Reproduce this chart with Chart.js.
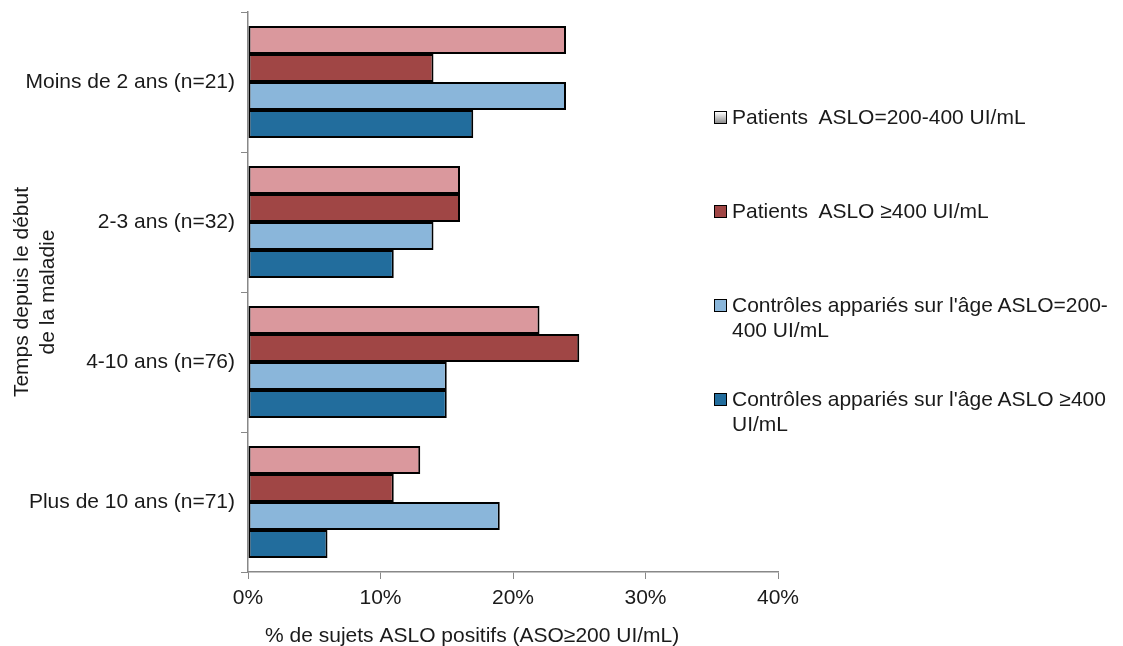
<!DOCTYPE html>
<html>
<head>
<meta charset="utf-8">
<script src="https://cdn.jsdelivr.net/npm/chart.js@4"></script>
<style>
  html, body { margin: 0; padding: 0; background: #fff; }
  #wrap { position: relative; width: 1123px; height: 646px; }
  #legend { position: absolute; left: 714px; top: 104px; font-family: "Liberation Sans", Arial, sans-serif; font-size: 21px; color: #1a1a1a; }
  .item { position: absolute; left: 0; width: 410px; line-height: 25px; padding-left: 18px; white-space: pre; }
  .box { position: absolute; left: 0; top: 7px; width: 11px; height: 11px; border: 1.5px solid #000; }
</style>
</head>
<body>
<div id="wrap">
  <canvas id="chart" width="1123" height="646"></canvas>
  <div id="legend"></div>
</div>
<script>
        // Données
        const categories = ['Moins de 2 ans (n=21)', '2-3 ans (n=32)', '4-10 ans (n=76)', 'Plus de 10 ans (n=71)'];
        const seriesNames = [
            ['Patients  ASLO=200-400 UI/mL'],
            ['Patients  ASLO \u2265400 UI/mL'],
            ["Contr\u00f4les appari\u00e9s sur l'\u00e2ge ASLO=200-", '400 UI/mL'],
            ["Contr\u00f4les appari\u00e9s sur l'\u00e2ge ASLO \u2265400", 'UI/mL']
        ];
        const patients200_400 = [24, 16, 22, 13];
        const patients400 = [14, 16, 25, 11];
        const controles200_400 = [24, 14, 15, 19];
        const controles400 = [17, 11, 15, 6];
        const xTicks = [0, 10, 20, 30, 40];

        const colors = ['#da989d', '#a04645', '#8ab6da', '#226d9d'];
        const legendSwatches = ['linear-gradient(#ffffff, #8c8c8c)', colors[1], colors[2], colors[3]];
        const seriesValues = [patients200_400, patients400, controles200_400, controles400];

        const font = "'Liberation Sans', Arial, sans-serif";
        Chart.defaults.font.family = font;
        Chart.defaults.font.size = 21;
        Chart.defaults.color = '#1a1a1a';

        const ctx = document.getElementById('chart').getContext('2d');
        const chart = new Chart(ctx, {
            type: 'bar',
            data: {
                labels: categories,
                datasets: seriesValues.map((vals, i) => ({
                    label: seriesNames[i].join(''),
                    lines: seriesNames[i],
                    data: vals,
                    backgroundColor: colors[i],
                    borderColor: '#000',
                    borderWidth: 2,
                    borderSkipped: false,
                    barPercentage: 1,
                    categoryPercentage: 0.8
                }))
            },
            options: {
                indexAxis: 'y',
                responsive: false,
                animation: false,
                layout: { padding: { top: 12, right: 345, left: 0, bottom: 0 } },
                plugins: {
                    legend: { display: false },
                    tooltip: { enabled: false }
                },
                scales: {
                    x: {
                        min: 0,
                        max: 40,
                        afterBuildTicks: function(scale) {
                            scale.ticks = xTicks.map(v => ({ value: v }));
                        },
                        afterFit: function(scale) { scale.height = 74; },
                        grid: { drawOnChartArea: false, color: '#888', tickLength: 7 },
                        border: { color: '#888', width: 1.5 },
                        ticks: {
                            padding: 7,
                            callback: function(value) { return value + '%'; }
                        },
                        title: {
                            display: true,
                            text: '% de sujets ASLO positifs (ASO\u2265200 UI/mL)              ',
                            padding: { top: 0, bottom: -3 }
                        }
                    },
                    y: {
                        afterFit: function(scale) {
                            scale.width = 248;
                            scale.paddingTop = 0;
                            scale.paddingBottom = 0;
                        },
                        grid: { drawOnChartArea: false, color: '#888', tickLength: 7, offset: true },
                        border: { color: '#888', width: 1.5 },
                        ticks: { padding: 6 },
                        title: {
                            display: true,
                            text: ['Temps depuis le d\u00e9but', 'de la maladie'],
                            padding: { top: 10, bottom: 0 }
                        }
                    }
                }
            }
        });

        // Légende à droite (texte sur plusieurs lignes)
        const legend = document.getElementById('legend');
        chart.data.datasets.forEach((ds, i) => {
            const item = document.createElement('div');
            item.className = 'item';
            item.style.top = (i * 94) + 'px';
            const box = document.createElement('span');
            box.className = 'box';
            box.style.background = legendSwatches[i];
            item.appendChild(box);
            item.appendChild(document.createTextNode(ds.lines.join('\n')));
            legend.appendChild(item);
        });
</script>
</body>
</html>
